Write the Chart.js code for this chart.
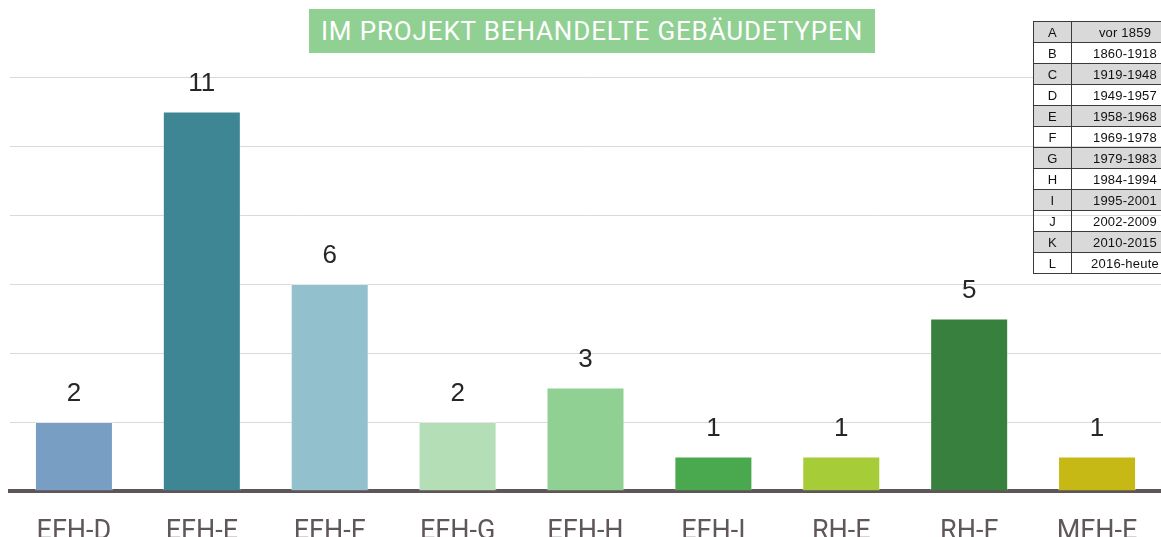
<!DOCTYPE html>
<html>
<head>
<meta charset="utf-8">
<script src="https://cdn.jsdelivr.net/npm/chart.js@4.4.1/dist/chart.umd.min.js"></script>
<style>
html,body{margin:0;padding:0;background:#fff;overflow:hidden;}
#wrap{position:relative;width:1161px;height:560px;overflow:hidden;}
#title{position:absolute;left:309px;top:9px;width:566px;height:44px;background:#90d093;color:#fff;
font:400 26px Roboto,sans-serif;letter-spacing:0.85px;line-height:45px;text-align:center;white-space:nowrap;}
#periods{position:absolute;left:1033px;top:21px;width:144px;table-layout:fixed;border-collapse:collapse;
font:13px "Liberation Sans",Arial,sans-serif;color:#111;letter-spacing:0.2px;}
#periods td{border:1px solid #3a3a3a;height:20px;padding:0;text-align:center;}
#periods td.c{width:37px;}
#periods td.y{width:106px;}
#periods tr.g td{background:#d9d9d9;}
</style>
</head>
<body>
<div id="wrap">
<canvas id="chart"></canvas>
<div id="title">IM PROJEKT BEHANDELTE GEBÄUDETYPEN</div>
<table id="periods"></table>
</div>
<script>
// ================================
// Data
// ================================

const categories=["EFH-D","EFH-E","EFH-F","EFH-G","EFH-H","EFH-I","RH-E","RH-F","MFH-E"];

const counts=[2,11,6,2,3,1,1,5,1];

const periodCodes=["A","B","C","D","E","F","G","H","I","J","K","L"];

const periodYears=["vor 1859","1860-1918","1919-1948","1949-1957","1958-1968","1969-1978","1979-1983","1984-1994","1995-2001","2002-2009","2010-2015","2016-heute"];

const yTicks=[0,2,4,6,8,10,12];

// bar colours per category
const barColors=["#789fc3","#3e8694","#92c0cc","#b4dfb6","#90d093","#4aa94f","#a6cc38","#38803e","#c7b915"];

// ================================
// Period table
// ================================

const table=document.getElementById("periods");

periodCodes.forEach(function(code,i){

    const tr=document.createElement("tr");

    if(i%2===0){ tr.className="g"; }

    tr.innerHTML='<td class="c">'+code+'</td><td class="y">'+periodYears[i]+'</td>';

    table.appendChild(tr);

});

// ================================
// Value labels above bars
// ================================

const valueLabels={

id:"valueLabels",

afterDatasetsDraw(chart){

    const ctx=chart.ctx;

    const meta=chart.getDatasetMeta(0);

    ctx.save();

    ctx.font='26px "Liberation Sans", Arial, sans-serif';

    ctx.fillStyle="#262626";

    ctx.textAlign="center";

    ctx.textBaseline="middle";

    meta.data.forEach(function(bar,i){

        ctx.fillText(String(counts[i]),bar.x,bar.y-28);

    });

    ctx.restore();

}

};

// ================================
// Chart
// ================================

new Chart(document.getElementById("chart"),{

type:"bar",

data:{

labels:categories,

datasets:[{

data:counts,

backgroundColor:barColors,

borderColor:"rgba(255,255,255,0.35)",

borderWidth:1,

barPercentage:0.61,

categoryPercentage:1

}]

},

options:{

responsive:true,

maintainAspectRatio:false,

animation:false,

layout:{ padding:{ top:77, left:0, right:0, bottom:0 } },

plugins:{ legend:{ display:false }, tooltip:{ enabled:false } },

scales:{

x:{

z:1,

grid:{ display:false, drawTicks:false },

border:{ display:true, color:"#5d5557", width:4 },

ticks:{ color:"#5f5759", padding:25, font:{ family:"Roboto", size:27, weight:400 } },

afterFit(scale){ scale.height=69; scale.paddingLeft=0; scale.paddingRight=0; }

},

y:{

min:0,

max:12,

afterBuildTicks(scale){ scale.ticks=yTicks.map(v=>({value:v})); },

ticks:{ display:false },

grid:{ color:"#d9d9d9", lineWidth:1, drawTicks:false },

border:{ display:false },

afterFit(scale){ scale.width=10; }

}

}

},

plugins:[valueLabels]

});
</script>
</body>
</html>
